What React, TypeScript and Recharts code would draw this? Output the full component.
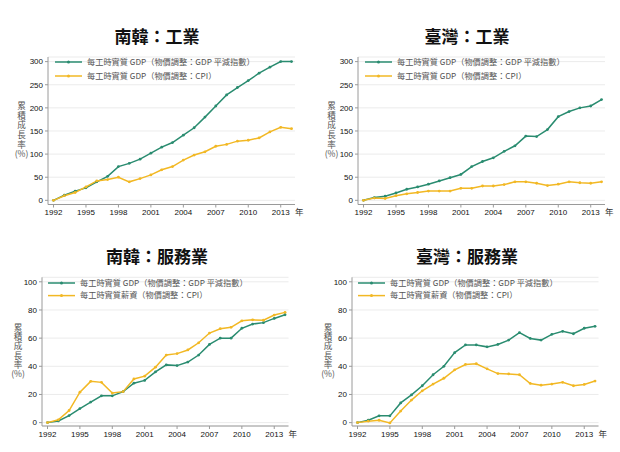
import React from "react";
import { LineChart, Line, XAxis, YAxis, CartesianGrid, Legend, Label } from "recharts";

const YEARS = [1992, 1993, 1994, 1995, 1996, 1997, 1998, 1999, 2000, 2001, 2002, 2003, 2004, 2005, 2006, 2007, 2008, 2009, 2010, 2011, 2012, 2013, 2014];
const X_TICKS = [1992, 1995, 1998, 2001, 2004, 2007, 2010, 2013];

const KOR_IND_GDP = [0, 11, 20, 27, 40, 52, 73, 80, 89, 102, 115, 125, 141, 157, 180, 204, 228, 244, 259, 275, 288, 300, 300];
const KOR_IND_CPI = [0, 10, 17, 29, 42, 45, 50, 40, 47, 55, 66, 73, 87, 98, 105, 117, 121, 128, 130, 135, 148, 158, 155];
const TW_IND_GDP = [0, 6, 9, 16, 24, 29, 35, 42, 49, 56, 73, 84, 92, 106, 118, 139, 138, 153, 181, 192, 200, 204, 218];
const TW_IND_CPI = [0, 5, 4, 10, 14, 17, 20, 20, 20, 26, 26, 31, 31, 34, 40, 40, 37, 32, 35, 40, 38, 37, 40];
const KOR_SVC_GDP = [0, 1.2, 5, 10, 14.6, 19, 19, 22, 28, 30, 36, 41, 40.5, 43, 48, 55.5, 60, 60, 67, 70, 71, 74, 76.6];
const KOR_SVC_WAGE = [0, 2, 8.6, 21.6, 29.3, 28.6, 21, 22, 31, 33, 39.4, 48, 49, 51.6, 56.7, 63.6, 66.7, 67.7, 72.3, 73, 72.7, 76.4, 78.3];
const TW_SVC_GDP = [0, 1.7, 4.8, 4.8, 14, 19.7, 26.2, 34, 40, 49.7, 55.2, 55.2, 53.8, 55.5, 58.6, 63.9, 59.8, 58.6, 62.7, 64.8, 63.1, 67, 68.4];
const TW_SVC_WAGE = [0, 1, 1.7, -0.2, 8.2, 16, 22.6, 27.4, 31.5, 37.5, 41.3, 41.8, 38.2, 34.8, 34.6, 34, 27.8, 26.6, 27.4, 28.6, 26.2, 27.1, 29.5];

const IND_Y_TICKS = [0, 50, 100, 150, 200, 250, 300];
const SVC_Y_TICKS = [0, 20, 40, 60, 80, 100];

const LABEL_GDP = "每工時實質 GDP（物價調整：GDP 平減指數）";
const LABEL_IND_CPI = "每工時實質 GDP（物價調整：CPI）";
const LABEL_SVC_WAGE = "每工時實質薪資（物價調整：CPI）";
const Y_LABEL_CHARS = ["累", "積", "成", "長", "率", "(%)"];
const X_UNIT = "年";

const GREEN = "#2a8c70";
const YELLOW = "#f2b824";
const CJK = "'Noto Sans CJK TC', 'Noto Sans', sans-serif";
const LATIN = "'Liberation Sans', Arial, sans-serif";

type Geo = {
  titleY: number;
  top: number;
  right: number;
  yWidth: number;
  xHeight: number;
  yDomain: [number, number];
  legendRow1: number;
  legendStep: number;
  legendX: number;
  yLabelX: number;
  yLabelStep: number;
  yLabelCenter: number;
};

const TOP_GEO: Geo = {
  titleY: 35.5,
  top: 57,
  right: 15,
  yWidth: 48,
  xHeight: 21.5,
  yDomain: [-9, 310],
  legendRow1: 62,
  legendStep: 14,
  legendX: 55,
  yLabelX: 21.5,
  yLabelStep: 9.6,
  yLabelCenter: 130,
};

const BOTTOM_GEO: Geo = {
  titleY: 30,
  top: 51.3,
  right: 21.5,
  yWidth: 42,
  xHeight: 26,
  yDomain: [-2.4, 103.2],
  legendRow1: 56.7,
  legendStep: 12.6,
  legendX: 48,
  yLabelX: 18,
  yLabelStep: 9.2,
  yLabelCenter: 124.5,
};

function buildRows(a: number[], b: number[]) {
  return YEARS.map((year, i) => ({ year, a: a[i], b: b[i] }));
}

type PanelProps = {
  title: string;
  a: number[];
  b: number[];
  labelA: string;
  labelB: string;
  yTicks: number[];
  geo: Geo;
};

function Panel({ title, a, b, labelA, labelB, yTicks, geo }: PanelProps) {
  const data = buildRows(a, b);
  const legendItems = [
    { label: labelA, color: GREEN },
    { label: labelB, color: YELLOW },
  ];
  const renderLegend = () => (
    <svg width={260} height={40} style={{ overflow: "visible", display: "block" }}>
      {legendItems.map((it, i) => {
        const y = i * geo.legendStep;
        return (
          <g key={i}>
            <line x1={0} x2={27} y1={y} y2={y} stroke={it.color} strokeWidth={1.5} />
            <circle cx={13.5} cy={y} r={1.5} fill={it.color} />
            <text x={32} y={y} dy="0.35em" fontSize={8.2} fill="#555" fontFamily={CJK}>
              {it.label}
            </text>
          </g>
        );
      })}
    </svg>
  );

  const renderXUnit = (props: any) => {
    const vb = props && props.viewBox ? props.viewBox : null;
    if (!vb) return null;
    return (
      <text x={vb.x + vb.width + 4.3} y={vb.y + 7.6} dy="0.35em" textAnchor="middle" fontSize={8.5} fill="#333" fontFamily={CJK}>
        {X_UNIT}
      </text>
    );
  };

  const labelHeight = Y_LABEL_CHARS.length * geo.yLabelStep;

  return (
    <div style={{ position: "relative", width: 310, height: 226 }}>
      <div
        style={{
          position: "absolute",
          left: 0,
          width: 314,
          top: geo.titleY - 12,
          height: 24,
          lineHeight: "24px",
          textAlign: "center",
          fontFamily: CJK,
          fontWeight: 700,
          fontSize: 17,
          color: "#111",
        }}
      >
        {title}
      </div>
      <div
        style={{
          position: "absolute",
          left: geo.yLabelX - 15,
          width: 30,
          top: geo.yLabelCenter - labelHeight / 2,
          height: labelHeight,
          lineHeight: geo.yLabelStep + "px",
          fontSize: 8.6,
          textAlign: "center",
          fontFamily: CJK,
          color: "#555",
          whiteSpace: "pre",
        }}
      >
        {Y_LABEL_CHARS.join("\n")}
      </div>
      <div style={{ position: "absolute", left: 0, top: 0 }}>
        <LineChart width={310} height={226} data={data} margin={{ top: geo.top, right: geo.right, left: 0, bottom: 0 }}>
          <CartesianGrid horizontal={true} vertical={false} stroke="#e6e6e6" strokeWidth={0.8} />
          <XAxis
            dataKey="year"
            type="number"
            domain={[1991.49, 2014.32]}
            ticks={X_TICKS}
            interval={0}
            allowDataOverflow
            height={geo.xHeight}
            tickSize={3}
            tickMargin={2}
            stroke="#9a9a9a"
            tick={{ fontSize: 8, fill: "#111", fontFamily: LATIN }}
          >
            <Label content={renderXUnit} position="right" />
          </XAxis>
          <YAxis
            type="number"
            domain={geo.yDomain}
            ticks={yTicks}
            interval={0}
            allowDataOverflow
            width={geo.yWidth}
            tickSize={3}
            tickMargin={2}
            stroke="#9a9a9a"
            tick={{ fontSize: 8, fill: "#111", fontFamily: LATIN }}
          />
          <Legend
            layout="vertical"
            align="center"
            verticalAlign="middle"
            wrapperStyle={{ left: geo.legendX, top: geo.legendRow1, width: 260, height: 40 }}
            content={renderLegend}
          />
          <Line
            type="linear"
            dataKey="a"
            name={labelA}
            stroke={GREEN}
            strokeWidth={1.5}
            dot={{ r: 1.4, fill: GREEN, stroke: "none" }}
            activeDot={false}
            isAnimationActive={false}
          />
          <Line
            type="linear"
            dataKey="b"
            name={labelB}
            stroke={YELLOW}
            strokeWidth={1.5}
            dot={{ r: 1.4, fill: YELLOW, stroke: "none" }}
            activeDot={false}
            isAnimationActive={false}
          />
        </LineChart>
      </div>
    </div>
  );
}

export default function App() {
  return (
    <div style={{ position: "absolute", left: 0, top: 0, width: 620, height: 452, background: "#fff", overflow: "hidden" }}>
      <div style={{ display: "flex", flexDirection: "row" }}>
        <Panel title="南韓：工業" a={KOR_IND_GDP} b={KOR_IND_CPI} labelA={LABEL_GDP} labelB={LABEL_IND_CPI} yTicks={IND_Y_TICKS} geo={TOP_GEO} />
        <Panel title="臺灣：工業" a={TW_IND_GDP} b={TW_IND_CPI} labelA={LABEL_GDP} labelB={LABEL_IND_CPI} yTicks={IND_Y_TICKS} geo={TOP_GEO} />
      </div>
      <div style={{ display: "flex", flexDirection: "row" }}>
        <Panel title="南韓：服務業" a={KOR_SVC_GDP} b={KOR_SVC_WAGE} labelA={LABEL_GDP} labelB={LABEL_SVC_WAGE} yTicks={SVC_Y_TICKS} geo={BOTTOM_GEO} />
        <Panel title="臺灣：服務業" a={TW_SVC_GDP} b={TW_SVC_WAGE} labelA={LABEL_GDP} labelB={LABEL_SVC_WAGE} yTicks={SVC_Y_TICKS} geo={BOTTOM_GEO} />
      </div>
    </div>
  );
}
